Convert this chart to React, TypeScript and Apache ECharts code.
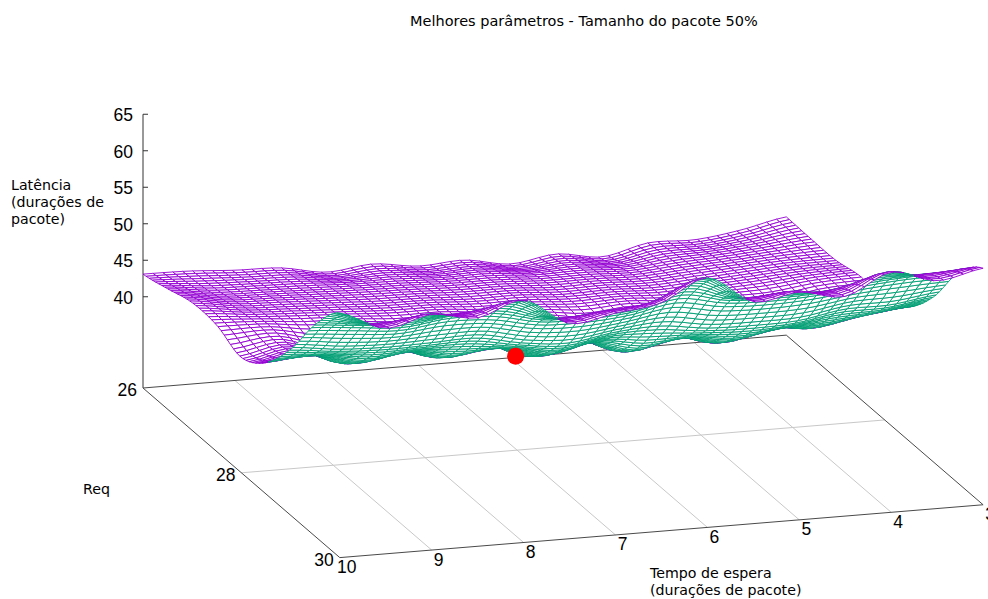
import React, { useEffect, useRef } from "react";
import * as echarts from "echarts";

const titleText = "Melhores parâmetros - Tamanho do pacote 50%";
const zTicks = [40, 45, 50, 55, 60, 65];
const xTicks = [10, 9, 8, 7, 6, 5, 4, 3];
const yTicks = [26, 28, 30];

// Latency at knots. Columns: wait time 10, 9.5 ... 3
const waitKnots = [10, 9.5, 9, 8.5, 8, 7.5, 7, 6.5, 6, 5.5, 5, 4.5, 4, 3.5, 3];
const reqKnots = [26, 26.5, 27, 27.5, 28, 28.5, 29, 29.5, 30];
const req260 = [43.1, 43.0, 42.6, 42.4, 41.3, 41.9, 41.1, 41.4, 40.35, 41.2, 40.3, 41.7, 41.6, 42.4, 43.7];
const req265 = [44.0, 43.3, 43.1, 42.9, 42.6, 42.5, 42.2, 42.2, 41.8, 41.9, 41.6, 42.2, 42.5, 43.0, 43.6];
const req270 = [45.0, 44.1, 43.8, 43.5, 43.2, 43.1, 42.8, 42.8, 42.4, 42.5, 42.3, 42.7, 43.1, 43.5, 43.6];
const req275 = [44.8, 44.6, 44.0, 43.9, 43.4, 43.5, 42.8, 43.1, 42.5, 42.9, 42.4, 43.1, 43.3, 44.0, 44.3];
const req280 = [43.3, 44.4, 42.2, 43.8, 42.0, 43.4, 41.1, 43.0, 40.8, 42.7, 41.0, 42.9, 42.0, 43.9, 44.0];
const req285 = [45.5, 46.0, 44.4, 45.4, 44.2, 45.0, 43.3, 44.6, 43.0, 44.2, 43.1, 44.5, 44.1, 45.4, 45.9];
const req290 = [50.2, 49.5, 49.2, 49.3, 49.4, 48.3, 47.7, 48.7, 48.9, 48.2, 48.0, 48.2, 49.2, 49.3, 50.2];
const req295 = [56.5, 55.9, 55.5, 56.2, 56.0, 54.6, 54.6, 55.0, 56.5, 55.2, 55.0, 55.2, 56.0, 56.4, 56.4];
const req300 = [61.0, 58.4, 59.8, 58.8, 60.7, 57.0, 57.9, 58.8, 61.7, 57.9, 58.7, 57.6, 60.4, 58.7, 59.9];
const latencyRows = [req260, req265, req270, req275, req280, req285, req290, req295, req300];
const bestPoint = [7, 27.97, 40.2];

const MESH_X = 66; // mesh lines along wait time
const MESH_Y = 64; // mesh lines along Req
const BASE_Z = 27.5;

function project(x: number, y: number, z: number): [number, number] {
  const dx = 10 - x;
  const dy = y - 26;
  return [143 + dx * 91.9 + dy * 49.2, 388 - dx * 7.55 + dy * 42.4 - (z - BASE_Z) * 7.3];
}

function cr(a: number, b: number, c: number, d: number, t: number) {
  return 0.5 * (2 * b + (c - a) * t + (2 * a - 5 * b + 4 * c - d) * t * t + (3 * b - a - 3 * c + d) * t * t * t);
}
const clampIdx = (i: number, n: number) => Math.max(0, Math.min(n - 1, i));

// Spline through the knots: the surface drawn between the values read above
function latencyAt(u: number, v: number) {
  const iu = Math.min(Math.floor(u), waitKnots.length - 2);
  const iv = Math.min(Math.floor(v), reqKnots.length - 2);
  const tu = u - iu;
  const tv = v - iv;
  const col = [-1, 0, 1, 2].map((k) => {
    const r = latencyRows[clampIdx(iv + k, reqKnots.length)];
    return cr(
      r[clampIdx(iu - 1, waitKnots.length)],
      r[iu],
      r[iu + 1],
      r[clampIdx(iu + 2, waitKnots.length)],
      tu,
    );
  });
  return cr(col[0], col[1], col[2], col[3], tv);
}

function buildMesh() {
  const pts: [number, number][][] = [];
  for (let j = 0; j < MESH_Y; j++) {
    const row: [number, number][] = [];
    const v = (j / (MESH_Y - 1)) * (reqKnots.length - 1);
    const y = 26 + (4 * j) / (MESH_Y - 1);
    for (let i = 0; i < MESH_X; i++) {
      const u = (i / (MESH_X - 1)) * (waitKnots.length - 1);
      const x = 10 - (7 * i) / (MESH_X - 1);
      row.push(project(x, y, latencyAt(u, v)));
    }
    pts.push(row);
  }
  return pts;
}

export default function App() {
  const ref = useRef<HTMLDivElement>(null);
  useEffect(() => {
    const chart = echarts.init(ref.current!, undefined, { renderer: "svg" });
    const mesh = buildMesh();
    // Painter's order: back rows first, far (right) columns first
    const cells: number[][] = [];
    for (let j = 0; j < MESH_Y - 1; j++) for (let i = MESH_X - 2; i >= 0; i--) cells.push([i, j]);

    const axisColor = "#4a4a4a";
    const gridColor = "#c8c8c8";
    const segs: { a: number[]; b: number[]; c: string }[] = [];
    const corner = (x: number, y: number) => project(x, y, BASE_Z);
    const zAt = (z: number) => project(10, 26, z);
    segs.push({ a: zAt(65), b: corner(10, 26), c: "#333" });
    zTicks.forEach((z) => {
      const p = zAt(z);
      segs.push({ a: p, b: [p[0] + 5, p[1]], c: "#333" });
    });
    xTicks.slice(1, -1).forEach((x) => segs.push({ a: corner(x, 30), b: corner(x, 26), c: gridColor }));
    segs.push({ a: corner(10, 28), b: corner(3, 28), c: gridColor });
    segs.push({ a: corner(10, 26), b: corner(3, 26), c: axisColor });
    segs.push({ a: corner(10, 30), b: corner(3, 30), c: axisColor });
    segs.push({ a: corner(10, 26), b: corner(10, 30), c: axisColor });
    segs.push({ a: corner(3, 26), b: corner(3, 30), c: axisColor });

    const tickFont = "17.5px 'Liberation Sans'";
    const labels: { p: number[]; t: string; align: string }[] = [];
    zTicks.forEach((z) => {
      const p = zAt(z);
      labels.push({ p: [p[0] - 10, p[1] + 1], t: String(z), align: "right" });
    });
    xTicks.forEach((x) => {
      const p = corner(x, 30);
      labels.push({ p: [p[0] + 7, p[1] + 9.5], t: String(x), align: "center" });
    });
    yTicks.forEach((y) => {
      const p = corner(10, y);
      labels.push({ p: [p[0] - 6, p[1] + 2], t: String(y), align: "right" });
    });

    const nameFont = "14.2px 'DejaVu Sans'";
    chart.setOption({
      animation: false,
      backgroundColor: "#fff",
      title: {
        text: titleText,
        left: 405,
        top: 8,
        textStyle: { fontFamily: "DejaVu Sans", fontSize: 14.5, fontWeight: "normal", color: "#000" },
      },
      grid: { left: 0, right: 0, top: 0, bottom: 0 },
      xAxis: { type: "value", min: 0, max: 988, show: false },
      yAxis: { type: "value", min: 0, max: 599, inverse: true, show: false },
      graphic: [
        { type: "text", x: 11, y: 176, style: { text: "Latência\n(durações de\npacote)", font: nameFont, lineHeight: 17, fill: "#000" } },
        { type: "text", x: 83, y: 482, style: { text: "Req", font: nameFont, fill: "#000" } },
        { type: "text", x: 650, y: 564, style: { text: "Tempo de espera\n(durações de pacote)", font: nameFont, lineHeight: 17, fill: "#000" } },
      ],
      series: [
        {
          type: "custom",
          coordinateSystem: "cartesian2d",
          silent: true,
          clip: false,
          z: 1,
          data: segs.map((_, k) => [k]),
          renderItem: (params: any, api: any) => {
            const s = segs[params.dataIndex];
            const a = api.coord(s.a);
            const b = api.coord(s.b);
            return {
              type: "line",
              shape: { x1: a[0], y1: a[1], x2: b[0], y2: b[1] },
              style: { stroke: s.c, lineWidth: 1 },
            };
          },
        },
        {
          type: "custom",
          coordinateSystem: "cartesian2d",
          silent: true,
          clip: false,
          z: 2,
          progressive: 0,
          data: cells,
          renderItem: (params: any, api: any) => {
            const [i, j] = cells[params.dataIndex];
            const q = [mesh[j][i], mesh[j][i + 1], mesh[j + 1][i + 1], mesh[j + 1][i]].map((p) => api.coord(p));
            let area = 0;
            for (let k = 0; k < 4; k++) {
              const m = q[k];
              const n = q[(k + 1) % 4];
              area += m[0] * n[1] - n[0] * m[1];
            }
            return {
              type: "polygon",
              shape: { points: q },
              style: { fill: "#fff", stroke: area > 0 ? "#9400d3" : "#009e73", lineWidth: 0.9 },
            };
          },
        },
        {
          type: "custom",
          coordinateSystem: "cartesian2d",
          silent: true,
          clip: false,
          z: 3,
          data: labels.map((_, k) => [k]),
          renderItem: (params: any, api: any) => {
            const l = labels[params.dataIndex];
            const p = api.coord(l.p);
            return {
              type: "text",
              style: { x: p[0], y: p[1], text: l.t, font: tickFont, fill: "#000", align: l.align, verticalAlign: "middle" },
            };
          },
        },
        {
          type: "scatter",
          z: 4,
          silent: true,
          symbol: "circle",
          symbolSize: 17,
          itemStyle: { color: "#ff0000", opacity: 1 },
          data: [project(bestPoint[0], bestPoint[1], bestPoint[2])],
        },
      ],
    });
    return () => chart.dispose();
  }, []);
  return <div ref={ref} style={{ position: "absolute", left: 0, top: 0, width: 988, height: 599, overflow: "hidden" }} />;
}
